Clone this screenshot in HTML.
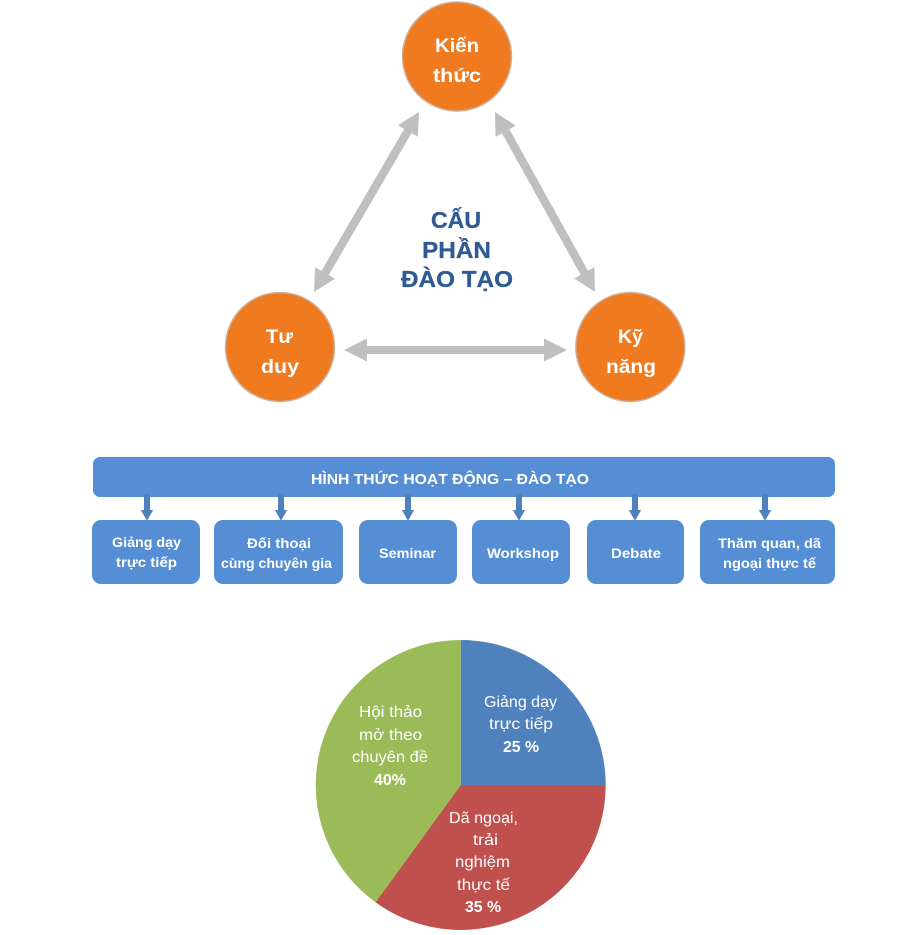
<!DOCTYPE html>
<html lang="vi">
<head>
<meta charset="utf-8">
<title>Cấu phần đào tạo</title>
<style>
html,body{margin:0;padding:0;background:#fff;width:907px;height:935px;overflow:hidden}
svg{display:block}
text{font-family:"Liberation Sans",Arial,sans-serif;fill:#fff}
.c{font-size:19.5px;font-weight:bold}
.t{font-size:23px;font-weight:bold;fill:#2f5a94;stroke:#2f5a94;stroke-width:.3px}
.h{font-size:15px;font-weight:bold}
.b{font-size:14px;font-weight:bold}
.p{font-size:16px}
.pb{font-size:16px;font-weight:bold}
</style>
</head>
<body>
<svg width="907" height="935" viewBox="0 0 907 935" xmlns="http://www.w3.org/2000/svg">
<rect width="907" height="935" fill="#fff"/>

<!-- Gray arrows -->
<g fill="#bfbfbf">
<polygon transform="translate(419,112) rotate(120.26)" points="0,0 22,-11.500 22,-4.200 186.400,-4.200 186.400,-11.500 208.400,0 186.400,11.500 186.400,4.200 22,4.200 22,11.500"/>
<polygon transform="translate(495,112) rotate(60.95)" points="0,0 22,-11.500 22,-4.200 183.900,-4.200 183.900,-11.500 205.900,0 183.900,11.500 183.900,4.200 22,4.200 22,11.500"/>
<polygon transform="translate(344,350)" points="0,0 23,-11.500 23,-4 200,-4 200,-11.500 223,0 200,11.500 200,4 23,4 23,11.500"/>
</g>

<!-- Circles -->
<g fill="#f07a1f" stroke="#cdb09b" stroke-width="1.5">
<circle cx="457" cy="56.500" r="54.500"/>
<circle cx="280" cy="347" r="54.500"/>
<circle cx="630.300" cy="347" r="54.500"/>
</g>
<text class="c" x="435" y="52" textLength="44" lengthAdjust="spacingAndGlyphs">Kiến</text>
<text class="c" x="433" y="82" textLength="48" lengthAdjust="spacingAndGlyphs">thức</text>
<text class="c" x="266" y="343" textLength="27" lengthAdjust="spacingAndGlyphs">Tư</text>
<text class="c" x="261" y="373" textLength="38" lengthAdjust="spacingAndGlyphs">duy</text>
<text class="c" x="618" y="343" textLength="25" lengthAdjust="spacingAndGlyphs">Kỹ</text>
<text class="c" x="606" y="373" textLength="50" lengthAdjust="spacingAndGlyphs">năng</text>

<!-- Title -->
<text class="t" x="431" y="228" textLength="50" lengthAdjust="spacingAndGlyphs">CẤU</text>
<text class="t" x="422" y="258" textLength="69" lengthAdjust="spacingAndGlyphs">PHẦN</text>
<text class="t" x="401" y="287" textLength="112" lengthAdjust="spacingAndGlyphs">ĐÀO TẠO</text>

<!-- Activity bar -->
<rect x="93" y="457" width="742" height="40" rx="7" fill="#558ed5"/>
<text class="h" x="311" y="484" textLength="278" lengthAdjust="spacingAndGlyphs">HÌNH THỨC HOẠT ĐỘNG – ĐÀO TẠO</text>

<!-- Boxes -->
<g fill="#558ed5">
<rect x="92" y="520" width="108" height="64" rx="9"/>
<rect x="214" y="520" width="129" height="64" rx="9"/>
<rect x="359" y="520" width="98" height="64" rx="9"/>
<rect x="472" y="520" width="98" height="64" rx="9"/>
<rect x="587" y="520" width="97" height="64" rx="9"/>
<rect x="700" y="520" width="135" height="64" rx="9"/>
</g>

<!-- Connector arrows -->
<g fill="#4f81bd">
<polygon transform="translate(147,0)" points="-3,494 3,494 3,510 6.200,510 0,520.700 -6.200,510 -3,510"/>
<polygon transform="translate(281,0)" points="-3,494 3,494 3,510 6.200,510 0,520.700 -6.200,510 -3,510"/>
<polygon transform="translate(408,0)" points="-3,494 3,494 3,510 6.200,510 0,520.700 -6.200,510 -3,510"/>
<polygon transform="translate(519,0)" points="-3,494 3,494 3,510 6.200,510 0,520.700 -6.200,510 -3,510"/>
<polygon transform="translate(635,0)" points="-3,494 3,494 3,510 6.200,510 0,520.700 -6.200,510 -3,510"/>
<polygon transform="translate(765,0)" points="-3,494 3,494 3,510 6.200,510 0,520.700 -6.200,510 -3,510"/>
</g>

<text class="b" x="112" y="547" textLength="69" lengthAdjust="spacingAndGlyphs">Giảng dạy</text>
<text class="b" x="116" y="567" textLength="61" lengthAdjust="spacingAndGlyphs">trực tiếp</text>
<text class="b" x="247" y="548" textLength="64" lengthAdjust="spacingAndGlyphs">Đối thoại</text>
<text class="b" x="221" y="568" textLength="111" lengthAdjust="spacingAndGlyphs">cùng chuyên gia</text>
<text class="b" x="379" y="558" textLength="57" lengthAdjust="spacingAndGlyphs">Seminar</text>
<text class="b" x="487" y="558" textLength="72" lengthAdjust="spacingAndGlyphs">Workshop</text>
<text class="b" x="611" y="558" textLength="50" lengthAdjust="spacingAndGlyphs">Debate</text>
<text class="b" x="718" y="548" textLength="103" lengthAdjust="spacingAndGlyphs">Thăm quan, dã</text>
<text class="b" x="723" y="568" textLength="93" lengthAdjust="spacingAndGlyphs">ngoại thực tế</text>

<!-- Pie -->
<path d="M460.700,785 L460.700,640 A145,145 0 0 1 605.700,785 Z" fill="#4f81bd"/>
<path d="M460.700,785 L605.700,785 A145,145 0 0 1 375.500,902.300 Z" fill="#c0504d"/>
<path d="M460.700,785 L375.500,902.300 A145,145 0 0 1 460.700,640 Z" fill="#9bbb59"/>

<text class="p" x="484" y="707" textLength="73" lengthAdjust="spacingAndGlyphs">Giảng dạy</text>
<text class="p" x="489" y="729" textLength="64" lengthAdjust="spacingAndGlyphs">trực tiếp</text>
<text class="pb" x="503" y="752" textLength="36" lengthAdjust="spacingAndGlyphs">25 %</text>

<text class="p" x="359" y="717" textLength="63" lengthAdjust="spacingAndGlyphs">Hội thảo</text>
<text class="p" x="359" y="740" textLength="63" lengthAdjust="spacingAndGlyphs">mở theo</text>
<text class="p" x="352" y="762" textLength="76" lengthAdjust="spacingAndGlyphs">chuyên đề</text>
<text class="pb" x="374" y="785" textLength="32" lengthAdjust="spacingAndGlyphs">40%</text>

<text class="p" x="449" y="823" textLength="69" lengthAdjust="spacingAndGlyphs">Dã ngoại,</text>
<text class="p" x="473" y="845" textLength="25" lengthAdjust="spacingAndGlyphs">trải</text>
<text class="p" x="455" y="867" textLength="55" lengthAdjust="spacingAndGlyphs">nghiệm</text>
<text class="p" x="457" y="890" textLength="53" lengthAdjust="spacingAndGlyphs">thực tế</text>
<text class="pb" x="465" y="912" textLength="36" lengthAdjust="spacingAndGlyphs">35 %</text>
</svg>
</body>
</html>
